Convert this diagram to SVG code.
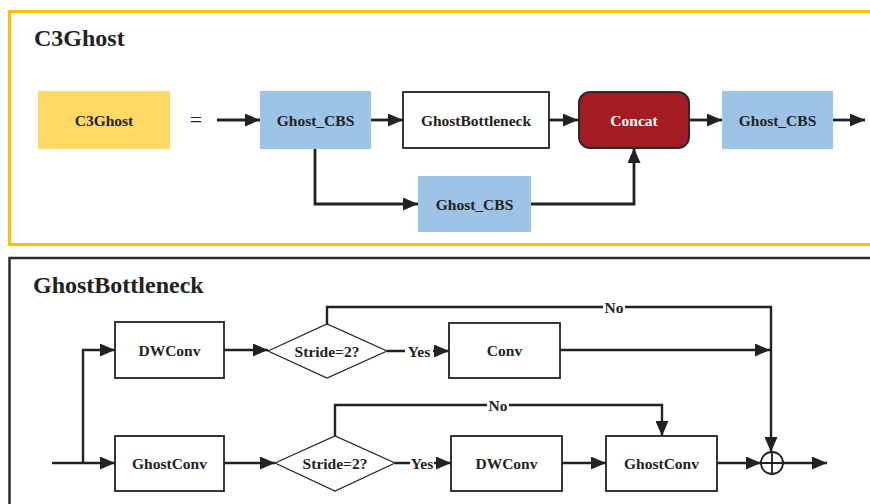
<svg xmlns="http://www.w3.org/2000/svg" width="870" height="504" viewBox="0 0 870 504">
  <defs>
    <marker id="arrow" markerUnits="userSpaceOnUse" markerWidth="15" markerHeight="13" refX="15" refY="6.5" orient="auto">
      <path d="M0,0 L15,6.5 L0,13 z" fill="#222"/>
    </marker>
    <style>
      text { font-family: "Liberation Serif", "Times New Roman", serif; font-weight: bold; fill: #222; text-anchor: middle; }
      .title { font-size: 24px; text-anchor: start; }
      .lbl { font-size: 15.5px; }
      .edge { fill: none; stroke: #222; stroke-width: 2.8; }
      .edge2 { fill: none; stroke: #222; stroke-width: 2.4; }
      .box { fill: #fff; stroke: #222; stroke-width: 1.8; }
      .cbs { fill: #9DC3E6; }
      .dia { fill: #fff; stroke: #222; stroke-width: 1.2; }
      .tagbg { fill: #fff; }
    </style>
  </defs>

  <!-- panel frames -->
  <rect x="9.5" y="11.5" width="880" height="233" fill="none" stroke="#FFC000" stroke-width="3"/>
  <rect x="9.5" y="258" width="880" height="270" fill="none" stroke="#2b2b2b" stroke-width="2.5"/>
  <text class="title" x="34" y="46">C3Ghost</text>
  <text class="title" x="33" y="293">GhostBottleneck</text>

  <!-- connectors -->
  <g id="connectors">
    <path class="edge" d="M217,120 H260" marker-end="url(#arrow)"/>
    <path class="edge" d="M371,120 H403" marker-end="url(#arrow)"/>
    <path class="edge" d="M549,120 H578" marker-end="url(#arrow)"/>
    <path class="edge" d="M690,120 H722" marker-end="url(#arrow)"/>
    <path class="edge" d="M833,120 H865" marker-end="url(#arrow)"/>
    <path class="edge" d="M315,149 V204 H418" marker-end="url(#arrow)"/>
    <path class="edge" d="M531,204 H634 V148" marker-end="url(#arrow)"/>

    <path class="edge2" d="M52,463 H115" marker-end="url(#arrow)"/>
    <path class="edge2" d="M83,463 V350 H115" marker-end="url(#arrow)"/>
    <path class="edge2" d="M224,350 H268" marker-end="url(#arrow)"/>
    <path class="edge2" d="M224,463 H275" marker-end="url(#arrow)"/>
    <path class="edge2" d="M387,351 H449" marker-end="url(#arrow)"/>
    <path class="edge2" d="M327,324 V307 H771 V452" marker-end="url(#arrow)"/>
    <path class="edge2" d="M560,350 H770" marker-end="url(#arrow)"/>
    <path class="edge2" d="M395,463 H451" marker-end="url(#arrow)"/>
    <path class="edge2" d="M335,436 V405 H662 V436" marker-end="url(#arrow)"/>
    <path class="edge2" d="M562,463 H606" marker-end="url(#arrow)"/>
    <path class="edge2" d="M717,463 H761" marker-end="url(#arrow)"/>
    <path class="edge2" d="M783,463 H827" marker-end="url(#arrow)"/>

    <rect class="tagbg" x="405" y="343" width="28" height="16"/>
    <text class="lbl" x="419" y="356.5">Yes</text>
    <rect class="tagbg" x="410" y="455" width="24" height="16"/>
    <text class="lbl" x="422" y="468.5">Yes</text>
    <rect class="tagbg" x="603" y="299" width="22" height="16"/>
    <text class="lbl" x="614" y="312.5">No</text>
    <rect class="tagbg" x="487" y="397" width="22" height="16"/>
    <text class="lbl" x="498" y="410.5">No</text>
  </g>

  <!-- C3Ghost module -->
  <g id="c3ghost">
    <rect x="38" y="91" width="132" height="58" fill="#FFD966"/>
    <text class="lbl" x="104" y="125.5">C3Ghost</text>
  </g>
  <g id="equals">
    <text x="196" y="127" style="font-size:22px;font-weight:normal">=</text>
  </g>
  <g id="ghost-cbs-1">
    <rect class="cbs" x="260" y="91" width="111" height="58"/>
    <text class="lbl" x="315.5" y="125.5">Ghost_CBS</text>
  </g>
  <g id="ghost-bottleneck">
    <rect class="box" x="403" y="92" width="146" height="56"/>
    <text class="lbl" x="476" y="125.5">GhostBottleneck</text>
  </g>
  <g id="concat">
    <rect x="579" y="92" width="110" height="56" rx="11" fill="#A31C23" stroke="#2a2a2a" stroke-width="2"/>
    <text class="lbl" x="634" y="125.5" style="fill:#fff">Concat</text>
  </g>
  <g id="ghost-cbs-3">
    <rect class="cbs" x="722" y="91" width="111" height="58"/>
    <text class="lbl" x="777.5" y="125.5">Ghost_CBS</text>
  </g>
  <g id="ghost-cbs-2">
    <rect class="cbs" x="418" y="176" width="113" height="56"/>
    <text class="lbl" x="474.5" y="209.5">Ghost_CBS</text>
  </g>

  <!-- GhostBottleneck module -->
  <g id="dwconv-1">
    <rect class="box" x="115" y="322" width="109" height="56"/>
    <text class="lbl" x="169.5" y="355.5">DWConv</text>
  </g>
  <g id="stride-1">
    <polygon class="dia" points="268,351 327,324 387,351 327,378"/>
    <text class="lbl" x="327" y="356.5">Stride=2?</text>
  </g>
  <g id="conv">
    <rect class="box" x="449" y="323" width="111" height="55"/>
    <text class="lbl" x="504.5" y="356">Conv</text>
  </g>
  <g id="ghostconv-1">
    <rect class="box" x="115" y="436" width="109" height="55"/>
    <text class="lbl" x="169.5" y="468.5">GhostConv</text>
  </g>
  <g id="stride-2">
    <polygon class="dia" points="275,463 335,436 395,463 335,491"/>
    <text class="lbl" x="335" y="468.5">Stride=2?</text>
  </g>
  <g id="dwconv-2">
    <rect class="box" x="451" y="436" width="111" height="55"/>
    <text class="lbl" x="506.5" y="468.5">DWConv</text>
  </g>
  <g id="ghostconv-2">
    <rect class="box" x="606" y="436" width="111" height="55"/>
    <text class="lbl" x="661.5" y="468.5">GhostConv</text>
  </g>
  <g id="add">
    <circle cx="772" cy="463" r="11" fill="#fff" stroke="#222" stroke-width="1.8"/>
    <path d="M761,463 H783 M772,452 V474" stroke="#222" stroke-width="1.8"/>
  </g>
</svg>
